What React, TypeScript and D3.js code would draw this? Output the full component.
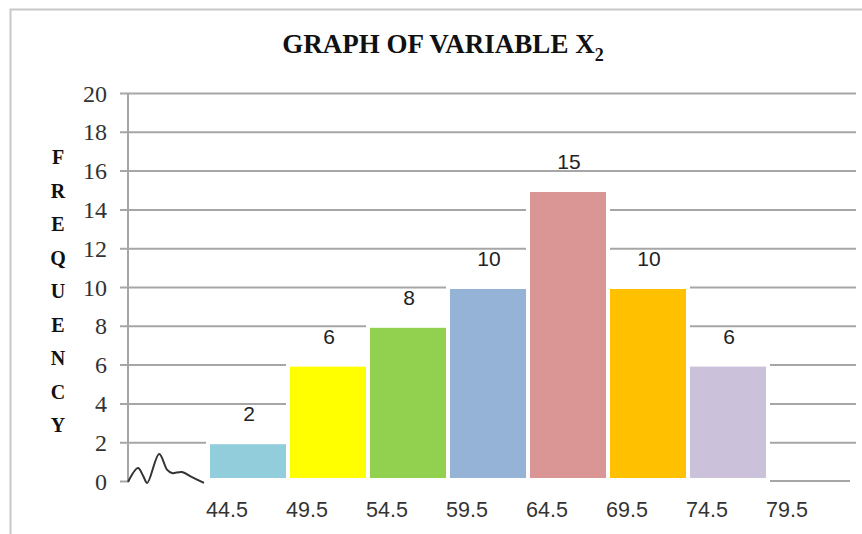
import { useEffect, useMemo, useRef } from "react";
import * as d3 from "d3";

const WIDTH = 862;
const HEIGHT = 534;
const MARGIN = { top: 93, right: 14, bottom: 53, left: 128 };

// slot 0 is the broken-axis squiggle, bars sit in slots 1..7, slot 8 only carries a label
const categories = ["", "44.5", "49.5", "54.5", "59.5", "64.5", "69.5", "74.5", "79.5"];
const barCategories = ["44.5", "49.5", "54.5", "59.5", "64.5", "69.5", "74.5"];
const frequencies = [2, 6, 8, 10, 15, 10, 6];
const barColors = ["#92CDDC", "#FFFF00", "#92D050", "#95B3D7", "#D99694", "#FFC000", "#CCC1DA"];
const yTicks = [0, 2, 4, 6, 8, 10, 12, 14, 16, 18, 20];
const yLabelLetters = ["F", "R", "E", "Q", "U", "E", "N", "C", "Y"];
// squiggle: [fraction across slot 0, value]
const squiggle: [number, number][] = [
    [0, -0.05], [0.125, 0.67], [0.19, 0.26], [0.24, -0.1], [0.39, 1.39],
    [0.49, 0.57], [0.55, 0.41], [0.675, 0.46], [0.8, 0.2], [0.95, -0.1],
];

const GRID = "#a6a6a6";
const TEXT = "#333";

const App = () => {
    const axesRef = useRef(null);
    const boundsWidth = WIDTH - MARGIN.left - MARGIN.right;
    const plotHeight = 481 - MARGIN.top;

    const xScale = useMemo(
        () => d3.scaleBand().domain(categories).range([0, boundsWidth]).padding(0),
        [boundsWidth]
    );
    const yScale = useMemo(
        () => d3.scaleLinear().domain([0, 20]).range([plotHeight, 0]),
        [plotHeight]
    );

    // gridlines + y axis drawn with d3
    useEffect(() => {
        const g = d3.select(axesRef.current);
        g.selectAll("*").remove();
        const yAxis = d3
            .axisLeft(yScale)
            .tickValues(yTicks)
            .tickSize(-(boundsWidth + 8))
            .tickPadding(14)
            .tickFormat(d3.format("d"));
        const ax = g.append("g").attr("transform", "translate(-8,0)").call(yAxis);
        ax.select(".domain").remove();
        ax.selectAll(".tick line")
            .attr("stroke", GRID)
            .attr("stroke-width", 2)
            .attr("transform", "translate(8,0)")
            .attr("x1", -8);
        ax.selectAll(".tick text")
            .attr("fill", TEXT)
            .attr("font-family", "'Liberation Serif', serif")
            .attr("font-size", 24)
            .attr("x", -13)
            .attr("dy", "0.34em");
        ax.selectAll(".tick")
            .filter((d) => d === 0)
            .select("line")
            .attr("x2", 0);
    }, [xScale, yScale, boundsWidth]);

    const squigglePath = d3
        .line<[number, number]>()
        .x((d) => (xScale("") ?? 0) + d[0] * xScale.bandwidth())
        .y((d) => yScale(d[1]))
        .curve(d3.curveCatmullRom.alpha(0.5))(squiggle);

    return (
        <svg
            width={WIDTH}
            height={HEIGHT}
            style={{ position: "absolute", left: 0, top: 0, background: "white" }}
        >
            {/* chart frame */}
            <path d={`M10.5,${HEIGHT} V9.5 H${WIDTH}`} fill="none" stroke="#c8c8c8" strokeWidth={2} />

            <text
                x={443}
                y={53}
                textAnchor="middle"
                fontFamily="'Liberation Serif', serif"
                fontWeight="bold"
                fontSize={27}
                fill="#111"
            >
                GRAPH OF VARIABLE X
                <tspan fontSize={18} dy={8}>2</tspan>
            </text>

            {yLabelLetters.map((l, i) => (
                <text
                    key={i}
                    x={58}
                    y={164 + i * 33.5}
                    textAnchor="middle"
                    fontFamily="'Liberation Serif', serif"
                    fontWeight="bold"
                    fontSize={20}
                    fill="#111"
                >
                    {l}
                </text>
            ))}

            <g transform={`translate(${MARGIN.left},${MARGIN.top})`} ref={axesRef} />

            <g transform={`translate(${MARGIN.left},${MARGIN.top})`}>
                {/* y axis line */}
                <line x1={0} x2={0} y1={0} y2={plotHeight} stroke={GRID} strokeWidth={2} />
                {/* baseline after the break */}
                <line
                    x1={xScale("44.5") ?? 0}
                    x2={boundsWidth + 2}
                    y1={plotHeight}
                    y2={plotHeight}
                    stroke={GRID}
                    strokeWidth={2}
                />
                {barCategories.map((c, i) => (
                    <rect
                        key={c}
                        x={xScale(c)}
                        y={yScale(frequencies[i])}
                        width={xScale.bandwidth()}
                        height={plotHeight - yScale(frequencies[i]) - 1}
                        fill={barColors[i]}
                        stroke="white"
                        strokeWidth={4}
                    />
                ))}
                {barCategories.map((c, i) => (
                    <text
                        key={c}
                        x={(xScale(c) ?? 0) + xScale.bandwidth() / 2 + 1}
                        y={yScale(frequencies[i]) - 21}
                        textAnchor="middle"
                        fontFamily="'Liberation Sans', sans-serif"
                        fontSize={21}
                        fill="#222"
                    >
                        {frequencies[i]}
                    </text>
                ))}
                {categories.slice(1).map((c) => (
                    <text
                        key={c}
                        x={(xScale(c) ?? 0) + 19}
                        y={plotHeight + 36}
                        textAnchor="middle"
                        fontFamily="'Liberation Sans', sans-serif"
                        fontSize={21.5}
                        fill={TEXT}
                    >
                        {c}
                    </text>
                ))}
                <path d={squigglePath ?? ""} fill="none" stroke="#333" strokeWidth={2} />
            </g>
        </svg>
    );
};

export default App;
